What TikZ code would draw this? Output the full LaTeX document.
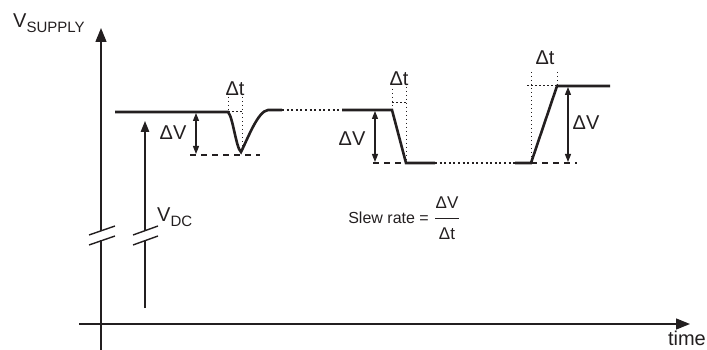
\documentclass[tikz,border=0pt]{standalone}
\usepackage{fontspec}
\setmainfont{Liberation Sans}
\usetikzlibrary{arrows.meta}
\definecolor{ink}{HTML}{231F20}
\begin{document}
\begin{tikzpicture}[x=1pt,y=-1pt,
  axisline/.style={line width=1.4pt, draw=ink},
  signal/.style={line width=2.6pt, draw=ink, line join=miter},
  contdots/.style={line width=2pt, draw=ink, dash pattern=on 2pt off 2.6pt},
  refdash/.style={line width=1.3pt, draw=ink, dash pattern=on 6pt off 5pt},
  guide/.style={line width=1pt, draw=ink, dash pattern=on 1.5pt off 2.5pt},
  dimarrow/.style={line width=1.1pt, draw=ink, {Triangle[length=8pt,width=6pt]}-{Triangle[length=8pt,width=6pt]}},
  bigtip/.style={-{Triangle[length=14pt,width=11pt]}},
  midtip/.style={-{Triangle[length=11pt,width=8.5pt]}},
  lbl/.style={text=ink, inner sep=0pt, font=\fontsize{20}{24}\selectfont},
  small/.style={text=ink, inner sep=0pt, font=\fontsize{16}{19}\selectfont},
  frac/.style={text=ink, inner sep=0pt, font=\fontsize{17}{20}\selectfont}]
\useasboundingbox (0,0) rectangle (707,350);

% axes
\coordinate (ybot) at (101,350);
\coordinate (ybrk1) at (101,231);
\coordinate (ybrk2) at (101,240);
\coordinate (ytop) at (101,28);
\draw[axisline] (ybot) -- (ybrk2);
\draw[axisline, bigtip] (ybrk1) -- (ytop);
\draw[axisline] (89,235) -- (115,226);
\draw[axisline] (89,245) -- (115,236);
\coordinate (xl) at (79,324);
\coordinate (xr) at (690,324);
\draw[axisline, bigtip] (xl) -- (xr);

\node[lbl, anchor=base west] (vsup) at (13,28) {V\raisebox{-5pt}{\fontsize{15}{15}\selectfont SUPPLY}};
\node[lbl, anchor=base east] (time) at (706,345) {time};

% V_DC arrow
\coordinate (dcbot) at (145,308);
\coordinate (dcbrk1) at (145,231);
\coordinate (dcbrk2) at (145,240);
\coordinate (dctop) at (145,121);
\draw[axisline] (dcbot) -- (dcbrk2);
\draw[axisline, midtip] (dcbrk1) -- (dctop);
\draw[axisline] (133,235) -- (158,226);
\draw[axisline] (133,245) -- (158,236);
\node[lbl, anchor=base west] (vdc) at (157,222) {V\raisebox{-5pt}{\fontsize{15}{15}\selectfont DC}};

% waveform
\coordinate (a0) at (115,112);
\coordinate (a1) at (228,112);
\coordinate (a2) at (241,152);
\coordinate (a3) at (268,110);
\coordinate (a4) at (282,110);
\coordinate (b0) at (342,110);
\coordinate (b1) at (392,110);
\coordinate (b2) at (406,163);
\coordinate (b3) at (435,163);
\coordinate (c0) at (515,163);
\coordinate (c1) at (531,163);
\coordinate (c2) at (557,86);
\coordinate (c3) at (610,86);

\draw[signal] (a0) -- (a1) .. controls (233,117) and (236,148) .. (a2)
  .. controls (248,138) and (258,111) .. (a3) -- (a4);
\draw[contdots] (a4) -- (b0);
\draw[signal] (b0) -- (b1) -- (b2) -- (b3);
\draw[contdots] (b3) -- (c0);
\draw[signal] (c0) -- (c1) -- (c2) -- (c3);

% reference dashed lines
\draw[refdash] (190,155) -- (260,155);
\draw[refdash] (373,163) -- (b2);
\draw[refdash] (c1) -- (577,163);

% delta V arrows
\draw[dimarrow] (196,113) -- (196,154);
\draw[dimarrow] (375,111) -- (375,162);
\draw[dimarrow] (568,87) -- (568,162);
\node[lbl] (dv1) at (173,133) {ΔV};
\node[lbl] (dv2) at (352,139) {ΔV};
\node[lbl] (dv3) at (586,123) {ΔV};

% delta t guides
\draw[guide] (228,97) -- (a1);
\draw[guide] (242,97) -- (242,152);
\draw[guide] (a1) -- (242,112);
\node[lbl] (dt1) at (235,89) {Δt};

\draw[guide] (392,89) -- (b1);
\draw[guide] (406,87) -- (b2);
\draw[guide] (392,103) -- (406,103);
\node[lbl] (dt2) at (399,79) {Δt};

\draw[guide] (531,72) -- (c1);
\draw[guide] (557,72) -- (c2);
\draw[guide] (527,86) -- (c2);
\node[lbl] (dt3) at (545,58) {Δt};

% slew rate
\node[small, anchor=east] (slew) at (429,218) {Slew rate =};
\node[frac] (fnum) at (447,203) {ΔV};
\node[frac] (fden) at (447,234) {Δt};
\draw[line width=1pt, draw=ink] (435,218) -- (459,218);
\end{tikzpicture}
\end{document}
